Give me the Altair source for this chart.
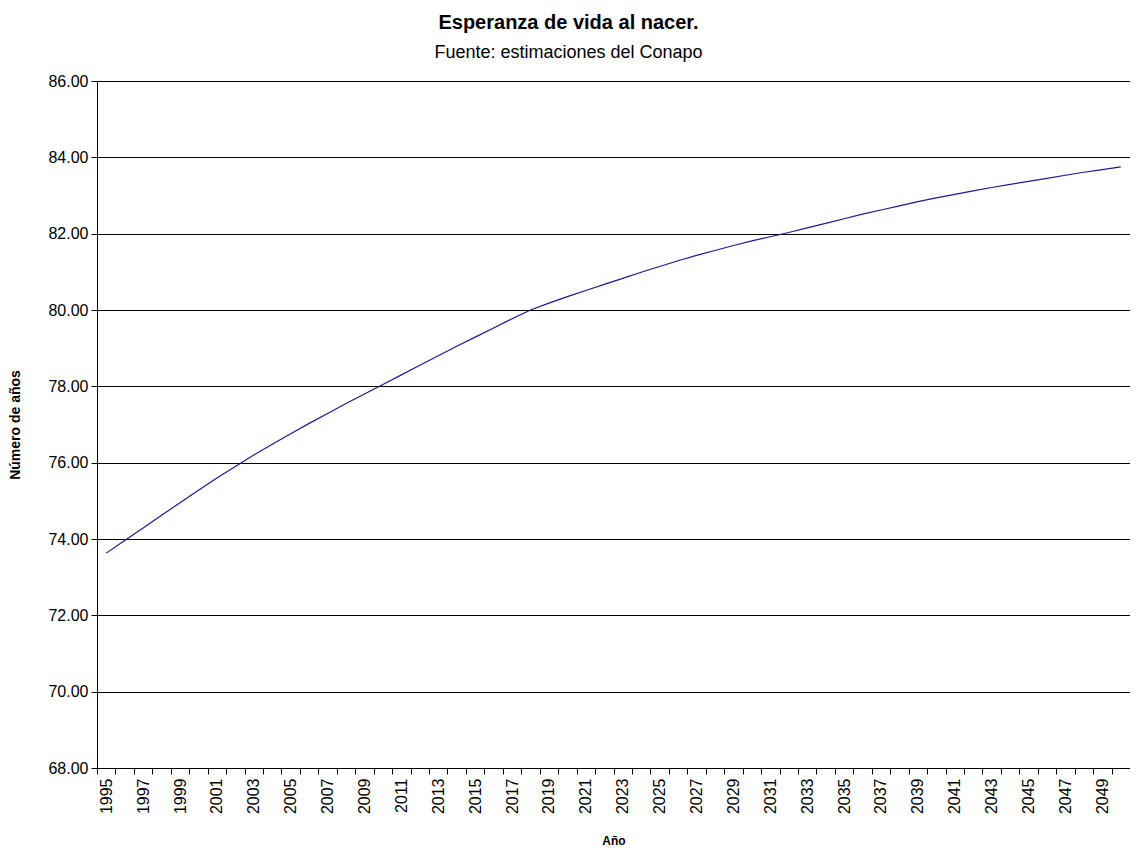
import altair as alt
import pandas as pd

years = list(range(1995, 2051))
life = [73.63, 73.96, 74.29, 74.62, 74.95, 75.28, 75.60, 75.90, 76.20, 76.48,
        76.76, 77.03, 77.29, 77.55, 77.80, 78.05, 78.30, 78.55, 78.80, 79.05,
        79.29, 79.53, 79.77, 80.00, 80.18, 80.35, 80.51, 80.67, 80.83, 80.99,
        81.14, 81.29, 81.43, 81.56, 81.69, 81.81, 81.92, 82.03, 82.15, 82.27,
        82.39, 82.51, 82.62, 82.73, 82.84, 82.94, 83.03, 83.12, 83.21, 83.29,
        83.37, 83.45, 83.53, 83.61, 83.68, 83.75]
y_ticks = [68, 70, 72, 74, 76, 78, 80, 82, 84, 86]

df = pd.DataFrame({"Año": [str(y) for y in years], "Número de años": life})

FONT = "Liberation Sans"
W = 1033
H = 687

chart = alt.Chart(df).mark_line(color="#1a1a99", strokeWidth=1.2).encode(
    x=alt.X(
        "Año:O",
        sort=[str(y) for y in years],
        bandPosition=0.5,
        scale=alt.Scale(type="band", paddingInner=0, paddingOuter=0),
        axis=alt.Axis(
            title="Año",
            labelAngle=-90,
            labelExpr="toNumber(datum.value) % 2 == 1 ? datum.label : ''",
            tickBand="extent",
            tickSize=6,
            tickColor="black",
            domainColor="black",
            labelFont=FONT,
            labelFontSize=16,
            labelColor="black",
            labelPadding=4,
            grid=False,
            titleFont=FONT,
            titleFontSize=12,
            titleFontWeight="bold",
            titleColor="black",
            titleX=W / 2,
            titleY=72,
            titleBaseline="middle",
            titleAlign="center",
        ),
    ),
    y=alt.Y(
        "Número de años:Q",
        scale=alt.Scale(domain=[68, 86], nice=False, zero=False),
        axis=alt.Axis(
            title="Número de años",
            values=y_ticks,
            format=".2f",
            grid=True,
            gridColor="black",
            gridWidth=1,
            tickSize=6,
            tickColor="black",
            domainColor="black",
            labelFont=FONT,
            labelFontSize=16,
            labelColor="black",
            labelPadding=3,
            titleFont=FONT,
            titleFontSize=14,
            titleFontWeight="bold",
            titleColor="black",
            titleAngle=-90,
            titleX=-82,
            titleY=H / 2,
            titleBaseline="middle",
            titleAlign="center",
        ),
    ),
).properties(
    width=W,
    height=H,
    title=alt.TitleParams(
        text="Esperanza de vida al nacer.",
        subtitle="Fuente: estimaciones del Conapo",
        font=FONT,
        fontSize=20,
        fontWeight="bold",
        color="black",
        subtitleFont=FONT,
        subtitleFontSize=18,
        subtitleColor="black",
        subtitlePadding=11,
        anchor="middle",
        dx=-45,
        offset=11,
    ),
    autosize=alt.AutoSizeParams(type="none"),
    padding={"left": 89, "top": 73, "right": 0, "bottom": 78},
).configure_view(
    stroke="#808080",
    strokeWidth=1,
).configure(background="white")

chart.save("out.html", embed_options={"renderer": "svg", "actions": False})
